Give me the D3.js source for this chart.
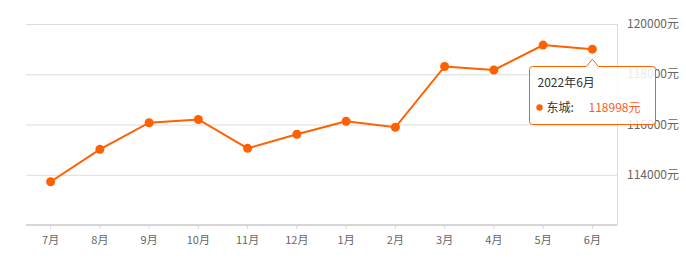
<!DOCTYPE html>
<html>
<head>
<meta charset="utf-8">
<script src="https://cdn.jsdelivr.net/npm/d3@7"></script>
<style>
  body { margin: 0; background: #fff; font-family: "Noto Sans CJK SC", "Noto Sans", sans-serif; }
  svg { display: block; }
</style>
</head>
<body>
<svg id="chart"></svg>
<script>
let months = ["7月", "8月", "9月", "10月", "11月", "12月", "1月", "2月", "3月", "4月", "5月", "6月"]
let prices = [113720, 115010, 116070, 116200, 115050, 115610, 116130, 115890, 118310, 118170, 119160, 118998]
let yTicks = [114000, 116000, 118000, 120000]
let tipTitle = "2022年6月"
let seriesName = "东城"

let width = 686, height = 271
let margin = {top: 24, right: 69, bottom: 46, left: 26}
let lineColor = "#ff6000"

let svg = d3.select("#chart")
    .attr("width", width)
    .attr("height", height)

let x = d3.scaleBand()
    .domain(months)
    .range([margin.left, width - margin.right])

let y = d3.scaleLinear()
    .domain([112000, 120000])
    .range([height - margin.bottom, margin.top])

// grid lines
svg.append("g")
    .selectAll("line")
    .data(yTicks)
    .join("line")
    .attr("x1", margin.left)
    .attr("x2", width - margin.right)
    .attr("y1", d => y(d) + 0.5)
    .attr("y2", d => y(d) + 0.5)
    .style("stroke", "#dcdcdc")
    .style("stroke-width", 1)

// right axis line
svg.append("line")
    .attr("x1", width - margin.right + 0.5)
    .attr("x2", width - margin.right + 0.5)
    .attr("y1", margin.top)
    .attr("y2", height - margin.bottom)
    .style("stroke", "#dcdcdc")

// y labels
svg.append("g")
    .selectAll("text")
    .data(yTicks)
    .join("text")
    .attr("x", width - margin.right + 10)
    .attr("y", d => y(d))
    .attr("dy", "0.35em")
    .style("font-size", "12px")
    .style("fill", "#666")
    .text(d => d + "元")

// x axis
let xAxis = svg.append("g")
    .attr("transform", `translate(0, ${height - margin.bottom})`)
    .call(d3.axisBottom(x).tickSize(4).tickPadding(7))

xAxis.select(".domain")
    .style("stroke", "#d6d6d6")
    .style("stroke-width", 2)
    .attr("d", `M${margin.left},0H${width - margin.right}`)

xAxis.selectAll(".tick line").style("stroke", "#d6d6d6")
xAxis.selectAll(".tick text")
    .style("font-size", "11px")
    .style("fill", "#666")
    .style("font-family", "'Noto Sans CJK SC', sans-serif")

let cx = d => x(d) + x.bandwidth() / 2

let line = d3.line()
    .x((d, i) => cx(months[i]))
    .y(d => y(d))

svg.append("path")
    .datum(prices)
    .attr("d", line)
    .style("fill", "none")
    .style("stroke", lineColor)
    .style("stroke-width", 2)

svg.append("g")
    .selectAll("circle")
    .data(prices)
    .join("circle")
    .attr("cx", (d, i) => cx(months[i]))
    .attr("cy", d => y(d))
    .attr("r", 4.5)
    .style("fill", lineColor)

// tooltip for the last point
let last = prices.length - 1
let px = cx(months[last]), py = y(prices[last])
let tx = 529.5, ty = 66.5, tw = 126, th = 58

let tip = svg.append("g")

tip.append("path")
    .attr("d", `M${tx + 3},${ty} H${px - 6} L${px},${py + 10} L${px + 6},${ty} H${tx + tw - 3} Q${tx + tw},${ty} ${tx + tw},${ty + 3} V${ty + th - 3} Q${tx + tw},${ty + th} ${tx + tw - 3},${ty + th} H${tx + 3} Q${tx},${ty + th} ${tx},${ty + th - 3} V${ty + 3} Q${tx},${ty} ${tx + 3},${ty} Z`)
    .style("fill", "rgba(255,255,255,0.85)")
    .style("stroke", lineColor)
    .style("stroke-width", 1)

tip.append("text")
    .attr("x", tx + 8)
    .attr("y", ty + 16)
    .attr("dy", "0.35em")
    .style("font-size", "12px")
    .style("fill", "#333")
    .text(tipTitle)

tip.append("circle")
    .attr("cx", tx + 10)
    .attr("cy", ty + 41)
    .attr("r", 3.2)
    .style("fill", lineColor)

tip.append("text")
    .attr("x", tx + 17)
    .attr("y", ty + 41)
    .attr("dy", "0.35em")
    .style("font-size", "12px")
    .style("fill", "#333")
    .text(seriesName + ":")

tip.append("text")
    .attr("x", tx + 59)
    .attr("y", ty + 41)
    .attr("dy", "0.35em")
    .style("font-size", "12px")
    .style("fill", "#ff5a1f")
    .text(prices[last] + "元")
</script>
</body>
</html>
